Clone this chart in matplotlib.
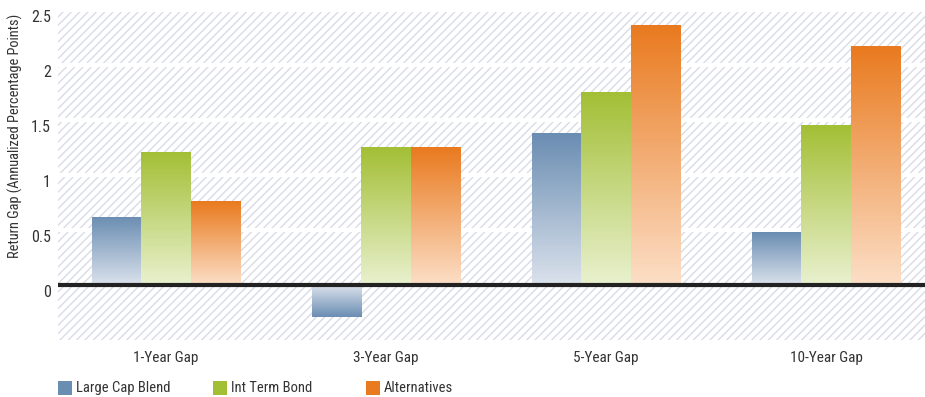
import matplotlib
matplotlib.use("Agg")
import matplotlib.pyplot as plt
import numpy as np
from matplotlib.colors import LinearSegmentedColormap
from matplotlib.patches import Rectangle

# data
categories = ["1-Year Gap", "3-Year Gap", "5-Year Gap", "10-Year Gap"]
series = ["Large Cap Blend", "Int Term Bond", "Alternatives"]
large_cap = [0.62, -0.29, 1.38, 0.48]
int_bond = [1.21, 1.25, 1.75, 1.45]
alternatives = [0.76, 1.25, 2.36, 2.17]
yticks = [0, 0.5, 1, 1.5, 2, 2.5]
ytick_labels = ["0", "0.5", "1", "1.5", "2", "2.5"]

# top (dark) and bottom (light) gradient colours
dark = ["#6a8db2", "#a3bf35", "#e97a1f"]
light = ["#dbe2ec", "#e9f1cf", "#fcdfc7"]

plt.rcParams['font.family'] = ['Roboto Condensed', 'DejaVu Sans']
plt.rcParams['hatch.linewidth'] = 1.0

fig = plt.figure(figsize=(9.25, 3.97), dpi=100)
ax = fig.add_axes([58/925, 1 - 340/397, 867/925, 330/397])

# hatched background
ax.add_patch(Rectangle((0, 0), 1, 1, transform=ax.transAxes, facecolor="white",
                       edgecolor="#d9dbe6", hatch="////", linewidth=0, zorder=0))
for y in yticks[1:]:
    ax.axhline(y, color="white", lw=3, zorder=1)

x = np.arange(len(categories))
w = 0.225
values = [large_cap, int_bond, alternatives]
for i, vals in enumerate(values):
    bars = ax.bar(x + (i - 1) * w, vals, w, color="none", linewidth=0, zorder=2)
    cmap = LinearSegmentedColormap.from_list("g%d" % i, [light[i], dark[i]])
    for b, v in zip(bars, vals):
        x0 = b.get_x()
        y0, y1 = min(0, v), max(0, v)
        grad = np.linspace(0, 1, 256).reshape(-1, 1)
        if v < 0:
            grad = grad[::-1]
        im = ax.imshow(grad, extent=(x0, x0 + w, y0, y1), origin="lower",
                       cmap=cmap, aspect="auto", zorder=2, interpolation="bilinear")
        im.set_clip_path(b)

ax.axhline(0, color="#222222", lw=3, zorder=3)

ax.set_xticks(x)
ax.set_xticklabels(categories, fontsize=11, color="#333333")
ax.set_yticks(yticks)
ax.set_yticklabels(ytick_labels, fontsize=11.5, color="#333333")
for lab in ax.get_yticklabels():
    lab.set_va("top")
ax.tick_params(length=0)
ax.tick_params(axis="y", pad=5)
ax.tick_params(axis="x", pad=8)
for s in ax.spines.values():
    s.set_visible(False)
ax.set_ylabel("Return Gap (Annualized Percentage Points)", fontsize=10.4,
              color="#333333")
ax.yaxis.set_label_coords(-35/867, 204/330)
ax.set_xlim(-0.49, 3.45)
ax.set_ylim(-0.5, 2.5)

# legend along the bottom
legend_x = [58, 213, 366]
for i, name in enumerate(series):
    lx = legend_x[i] / 925
    fig.patches.append(Rectangle((lx, 1 - 395/397), 14/925, 14/397,
                                 transform=fig.transFigure, facecolor=dark[i],
                                 edgecolor="none"))
    fig.text(lx + 18/925, 1 - 388/397, name, fontsize=10.5, color="#333333",
             va="center", ha="left")

fig.savefig("out.png", dpi=100)
